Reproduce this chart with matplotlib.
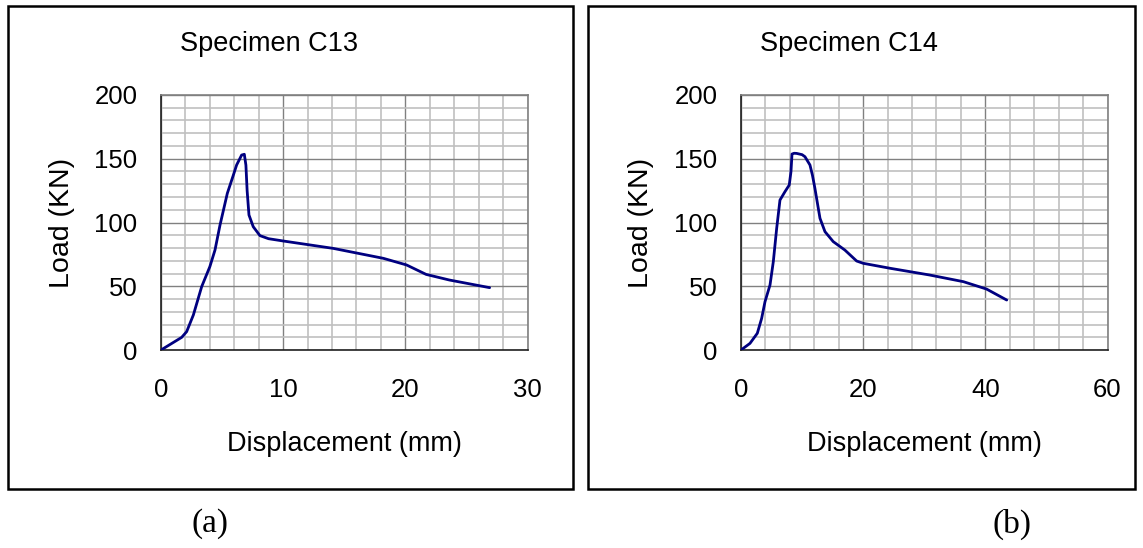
import matplotlib
matplotlib.use("Agg")
import matplotlib.pyplot as plt
from matplotlib.patches import Rectangle
from matplotlib.ticker import MultipleLocator

plt.rcParams['font.family'] = ['Liberation Sans', 'DejaVu Sans']

# Specimen C13
c13_disp = [0, 1.69, 2.1, 2.65, 3.33, 4.0, 4.42, 4.83, 5.43, 5.9, 6.19, 6.6, 6.82, 6.95, 7.05, 7.2,
            7.55, 8.1, 8.8, 10.0, 14.1, 18.2, 20.1, 21.7, 23.6, 26.9]
c13_load = [0, 9.9, 14.4, 27.5, 49.7, 65.4, 78.4, 98, 122.9, 136.5, 145.1, 152.9, 153.5, 145, 125,
            105.9, 96.7, 89.7, 87.3, 85.5, 79.7, 71.9, 66.7, 59.3, 54.9, 48.9]

# Specimen C14
c14_disp = [0, 1.47, 2.67, 3.38, 3.93, 4.75, 5.29, 5.84, 6.38, 7.2, 7.9, 8.18, 8.35, 8.7, 9.1, 10.0,
            10.47, 11.29, 11.7, 12.1, 12.93, 13.75, 15.1, 17.0, 18.1, 18.93, 20.0, 24.4, 30.9, 36.4,
            40.2, 43.5]
c14_load = [0, 5.2, 13.1, 24.8, 37.9, 51, 69.3, 95.4, 117.6, 124.2, 129.4, 139.9, 153.7, 154.3,
            154.2, 153.2, 151.6, 145.1, 137, 126.8, 103.3, 92.8, 85, 78.4, 73.5, 69.8, 68, 64.1,
            58.8, 53.6, 47.8, 39.2]

titles = ["Specimen C13", "Specimen C14"]
sub_labels = ["(a)", "(b)"]
x_max = [30, 60]
x_major = [10, 20]
x_minor = [2, 4]
y_ticks = [0, 50, 100, 150, 200]

W, H = 1143, 548
fig = plt.figure(figsize=(W / 100, H / 100), dpi=100)

def fx(px):
    return px / W

def fy(py):
    return 1 - py / H

panels = [
    dict(frame=(8, 6, 573, 489), ax=(161, 95, 527.5, 350), title_x=269, ylab_x=62, xlab_x=344, sub_x=210,
         data=(c13_disp, c13_load)),
    dict(frame=(588, 6, 1135, 489), ax=(741, 95, 1107.5, 350), title_x=849, ylab_x=641, xlab_x=924, sub_x=1012,
         data=(c14_disp, c14_load)),
]

for i, p in enumerate(panels):
    x0, y0, x1, y1 = p['frame']
    fig.patches.append(Rectangle((fx(x0), fy(y1)), fx(x1 - x0), (y1 - y0) / H,
                                 transform=fig.transFigure, fill=False, edgecolor='black',
                                 linewidth=1.8, zorder=0))
    a0, b0, a1, b1 = p['ax']
    ax = fig.add_axes([fx(a0), fy(b1), fx(a1 - a0), (b1 - b0) / H])
    xs, ys = p['data']
    ax.plot(xs, ys, color='#000080', linewidth=2.0, zorder=3,
            solid_joinstyle='round', solid_capstyle='round')
    ax.set_xlim(0, x_max[i])
    ax.set_ylim(0, 200)
    ax.set_xticks(range(0, x_max[i] + 1, x_major[i]))
    ax.set_yticks(y_ticks)
    ax.xaxis.set_minor_locator(MultipleLocator(x_minor[i]))
    ax.yaxis.set_minor_locator(MultipleLocator(10))
    ax.grid(which='minor', color='#c0c0c0', linewidth=1.2, zorder=1)
    ax.grid(which='major', color='#808080', linewidth=1.0, zorder=2)
    ax.set_axisbelow(True)
    ax.tick_params(which='both', length=0)
    ax.tick_params(axis='x', labelsize=18.5, pad=20)
    ax.tick_params(axis='y', labelsize=18.5, pad=17)
    for s in ['top', 'right']:
        ax.spines[s].set_color('#808080')
        ax.spines[s].set_linewidth(1.2)
    for s in ['bottom', 'left']:
        ax.spines[s].set_color('#202020')
        ax.spines[s].set_linewidth(1.2)
    fig.text(fx(p['title_x']), fy(44), titles[i], ha='center', va='center', fontsize=19.5)
    fig.text(fx(p['ylab_x']), fy(223), "Load (KN)", ha='center', va='center', rotation=90, fontsize=20.5)
    fig.text(fx(p['xlab_x']), fy(444), "Displacement (mm)", ha='center', va='center', fontsize=19.5)
    fig.text(fx(p['sub_x']), fy(524), sub_labels[i], ha='center', va='center', fontsize=24,
             family=['Liberation Serif', 'DejaVu Serif'])

fig.savefig("out.png", dpi=100, facecolor='white')
